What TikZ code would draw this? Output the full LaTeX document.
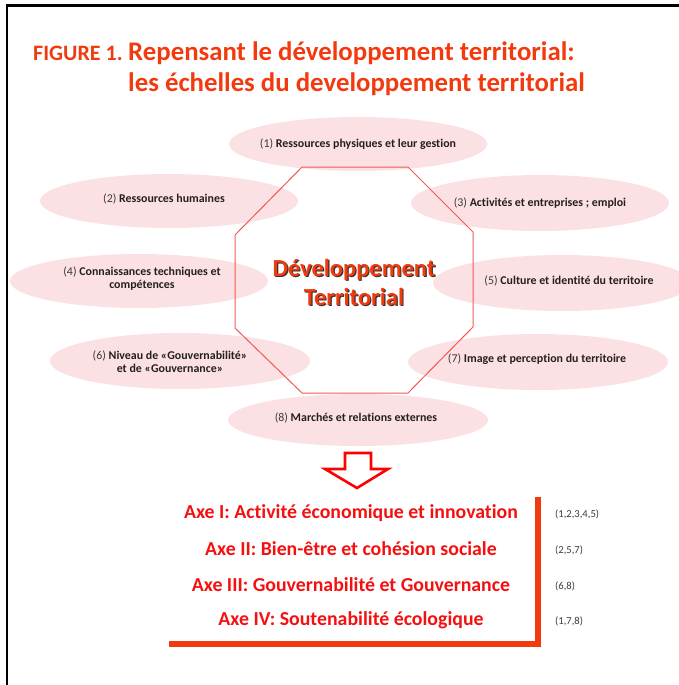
\documentclass[tikz,border=0pt]{standalone}
\usepackage{fontspec}
\setmainfont{Carlito}[RawFeature={-liga}]
\usetikzlibrary{shapes.geometric}
\definecolor{titlered}{HTML}{F23A0F}
\definecolor{axered}{HTML}{F51010}
\definecolor{pinkfill}{HTML}{FCE1E4}
\definecolor{octline}{HTML}{EF5A55}
\definecolor{txtdark}{HTML}{231F20}
\definecolor{numgray}{HTML}{3A3A3A}
\begin{document}
\begin{tikzpicture}[x=1pt,y=-1pt,
  bubble/.style={fill=pinkfill,draw=none},
  bubtext/.style={align=center,text=txtdark,font=\fontsize{11.9}{13.5}\selectfont\bfseries,inner sep=0pt},
  axetext/.style={text=axered,font=\fontsize{19.8}{22}\selectfont\bfseries,inner sep=0pt},
  numtext/.style={anchor=west,text=numgray,font=\fontsize{10.6}{12}\selectfont,inner sep=0pt},
  titletext/.style={anchor=base west,text=titlered,inner sep=0pt,font=\fontsize{26.8}{30}\selectfont\bfseries},
  ctrtext/.style={align=center,inner sep=0pt,font=\fontsize{24.5}{29}\selectfont\bfseries}]
\useasboundingbox (0,0) rectangle (679,685);
% frame
\draw[line width=2.2pt] (7,685) -- (7,5.5) -- (679,5.5);
% title
\node[titletext,font=\fontsize{22}{24}\selectfont\bfseries] (fig) at (33,60) {FIGURE 1.};
\node[titletext] (t1) at (128,60) {Repensant le développement territorial:};
\node[titletext] (t2) at (128,92) {les échelles du developpement territorial};
% bubbles
\fill[bubble] (358,144) ellipse [x radius=129, y radius=27];
\fill[bubble] (169,201) ellipse [x radius=129, y radius=27];
\fill[bubble] (540,203) ellipse [x radius=129, y radius=28];
\fill[bubble] (139,281) ellipse [x radius=129, y radius=27];
\fill[bubble] (562,283) ellipse [x radius=129, y radius=28];
\fill[bubble] (180,361) ellipse [x radius=130, y radius=28];
\fill[bubble] (538,362) ellipse [x radius=130, y radius=28];
\fill[bubble] (358,420) ellipse [x radius=130, y radius=26];
% octagon
\draw[draw=octline,line width=1pt,line join=miter]
  (302,167) -- (408,167) -- (473,232) -- (473,327) -- (408,393) -- (302,393) -- (235,328) -- (235,235) -- cycle;
% center text
\node[ctrtext,text=black!80] (ctrs) at (355.2,283.2) {Développement\\Territorial};
\node[ctrtext,text=titlered] (ctr) at (354,282) {Développement\\Territorial};
% bubble texts
\node[bubtext] (b1) at (358,144) {{\mdseries\color{numgray}(1)} Ressources physiques et leur gestion};
\node[bubtext] (b2) at (164,199) {{\mdseries\color{numgray}(2)} Ressources humaines};
\node[bubtext] (b3) at (540,203) {{\mdseries\color{numgray}(3)} Activités et entreprises ; emploi};
\node[bubtext] (b4) at (142,278.5) {{\mdseries\color{numgray}(4)} Connaissances techniques et\\compétences};
\node[bubtext] (b5) at (569,281) {{\mdseries\color{numgray}(5)} Culture et identité du territoire};
\node[bubtext] (b6) at (170,361.5) {{\mdseries\color{numgray}(6)} Niveau de «Gouvernabilité»\\et de «Gouvernance»};
\node[bubtext] (b7) at (537,359) {{\mdseries\color{numgray}(7)} Image et perception du territoire};
\node[bubtext] (b8) at (356,418) {{\mdseries\color{numgray}(8)} Marchés et relations externes};
% down arrow
\filldraw[draw=red,fill=white,line width=2.6pt,line join=miter]
  (345,453) -- (371,453) -- (371,469) -- (388,469) -- (357,488) -- (325,469) -- (345,469) -- cycle;
% axes
\node[axetext] (a1) at (351,513) {Axe I: Activité économique et innovation};
\node[axetext] (a2) at (351,549) {Axe II: Bien-être et cohésion sociale};
\node[axetext] (a3) at (351,585) {Axe III: Gouvernabilité et Gouvernance};
\node[axetext] (a4) at (351,620) {Axe IV: Soutenabilité écologique};
\node[numtext] (n1) at (555,514) {(1,2,3,4,5)};
\node[numtext] (n2) at (555,550) {(2,5,7)};
\node[numtext] (n3) at (555,586) {(6,8)};
\node[numtext] (n4) at (555,621) {(1,7,8)};
% bracket
\draw[titlered,line width=6pt,line join=miter] (169,644) -- (538,644) -- (538,497);
\end{tikzpicture}
\end{document}
